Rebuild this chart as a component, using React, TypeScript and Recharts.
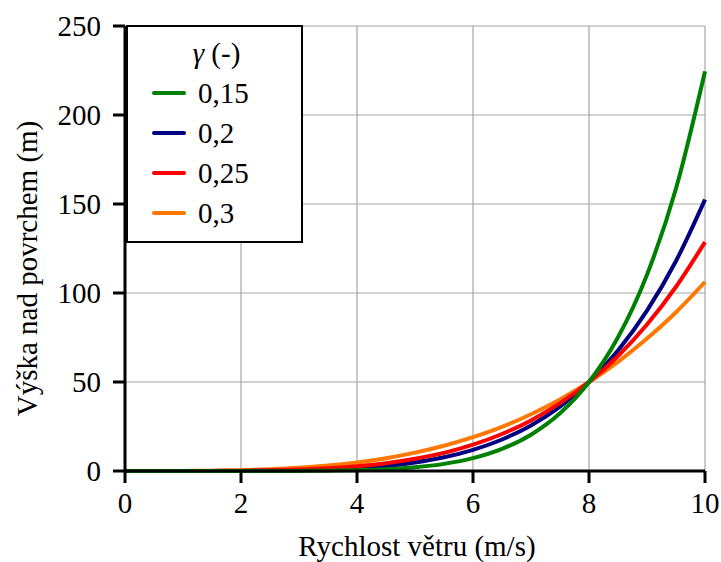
import React from 'react';
import {
  LineChart, Line, XAxis, YAxis, CartesianGrid, Legend,
} from 'recharts';

// wind speed (m/s) on the x axis
const speeds = [0, 0.5, 1, 1.5, 2, 2.5, 3, 3.5, 4, 4.5, 5, 5.5, 6, 6.5, 7, 7.5, 8, 8.5, 9, 9.5, 10];

// height above ground (m) for each exponent
const h015 = [0, 0, 0, 0, 0.005, 0.02, 0.07, 0.19, 0.48, 1.05, 2.1, 4.0, 7.2, 12.4, 20.4, 32.4, 50, 75.1, 110.3, 158.7, 224.5];
const h020 = [0, 0, 0, 0.01, 0.05, 0.15, 0.37, 0.8, 1.56, 2.8, 4.8, 7.7, 11.9, 17.7, 25.6, 36.2, 50, 67.7, 90.1, 118, 152.5];
const h025 = [0, 0, 0.01, 0.04, 0.14, 0.37, 0.8, 1.5, 2.7, 4.4, 6.9, 10.2, 14.8, 20.8, 28.4, 38.1, 50, 64.6, 82.3, 103.5, 128.6];
const h030 = [0, 0, 0.05, 0.18, 0.47, 0.99, 1.8, 3.1, 4.8, 7.2, 10.3, 14.2, 19, 24.8, 31.9, 40.2, 50, 61.3, 74.4, 89.2, 106.2];

const xTicks = [0, 2, 4, 6, 8, 10];
const yTicks = [0, 50, 100, 150, 200, 250];

const seriesNames = ['0,15', '0,2', '0,25', '0,3'];
const seriesKeys = ['g015', 'g020', 'g025', 'g030'];
const COLORS = ['#008000', '#000080', '#ff0000', '#ff7800'];

const data = speeds.map((v, i) => ({
  v,
  g015: h015[i],
  g020: h020[i],
  g025: h025[i],
  g030: h030[i],
}));

const FONT = 'Liberation Serif';
const tickStyle = { fill: '#000', fontSize: 29, fontFamily: FONT };

const LegendBox = () => (
  <div
    style={{
      width: 177,
      height: 218,
      boxSizing: 'border-box',
      border: '2px solid #000',
      background: '#fff',
      fontFamily: FONT,
      fontSize: 29,
      color: '#000',
      paddingTop: 6,
    }}
  >
    <div style={{ height: 40, lineHeight: '40px', textAlign: 'center', paddingLeft: 4 }}>
      <span style={{ fontStyle: 'italic' }}>γ</span> (-)
    </div>
    {seriesNames.map((name, i) => (
      <div key={name} style={{ height: 40, display: 'flex', alignItems: 'center', paddingLeft: 24 }}>
        <span style={{ display: 'inline-block', width: 34, height: 4, borderRadius: 2, background: COLORS[i], marginRight: 12 }} />
        <span style={{ lineHeight: '40px' }}>{name}</span>
      </div>
    ))}
  </div>
);

// draw order: orange under, green on top
const drawOrder = [3, 1, 2, 0];

export default function App() {
  return (
    <div style={{ position: 'absolute', left: 0, top: 0, width: 721, height: 562, background: '#fff', fontFamily: FONT }}>
      <LineChart width={721} height={562} data={data} margin={{ top: 26, right: 16, bottom: 31, left: 0 }}>
        <CartesianGrid stroke="#a6a6a6" strokeWidth={1.2} />
        <XAxis
          dataKey="v"
          type="number"
          domain={[0, 10]}
          ticks={xTicks}
          height={60}
          axisLine={{ stroke: '#000', strokeWidth: 3 }}
          tickLine={{ stroke: '#000', strokeWidth: 3 }}
          tickSize={12}
          tickMargin={9}
          tick={tickStyle}
          label={{
            content: (props: any) => {
              const vb = props.viewBox;
              return (
                <text x={vb.x + vb.width / 2 + 2} y={vb.y + 85} textAnchor="middle" fill="#000" fontSize={29} fontFamily={FONT}>
                  Rychlost větru (m/s)
                </text>
              );
            },
          }}
        />
        <YAxis
          type="number"
          domain={[0, 250]}
          ticks={yTicks}
          width={125}
          axisLine={{ stroke: '#000', strokeWidth: 3 }}
          tickLine={{ stroke: '#000', strokeWidth: 3 }}
          tickSize={12}
          tickMargin={12}
          tick={tickStyle}
          label={{
            content: (props: any) => {
              const vb = props.viewBox;
              const cx = vb.x + 27;
              const cy = vb.y + vb.height / 2 + 20;
              return (
                <text
                  x={cx}
                  y={cy}
                  transform={`rotate(-90 ${cx} ${cy})`}
                  textAnchor="middle"
                  dominantBaseline="central"
                  fill="#000"
                  fontSize={29}
                  fontFamily={FONT}
                >
                  Výška nad povrchem (m)
                </text>
              );
            },
          }}
        />
        {drawOrder.map((i) => (
          <Line
            key={seriesKeys[i]}
            type="monotone"
            dataKey={seriesKeys[i]}
            name={seriesNames[i]}
            stroke={COLORS[i]}
            strokeWidth={4}
            dot={false}
            activeDot={false}
            isAnimationActive={false}
          />
        ))}
        <Legend
          layout="vertical"
          align="center"
          verticalAlign="middle"
          content={() => <LegendBox />}
          wrapperStyle={{ left: 126, top: 25, width: 177, height: 218 }}
        />
      </LineChart>
    </div>
  );
}
